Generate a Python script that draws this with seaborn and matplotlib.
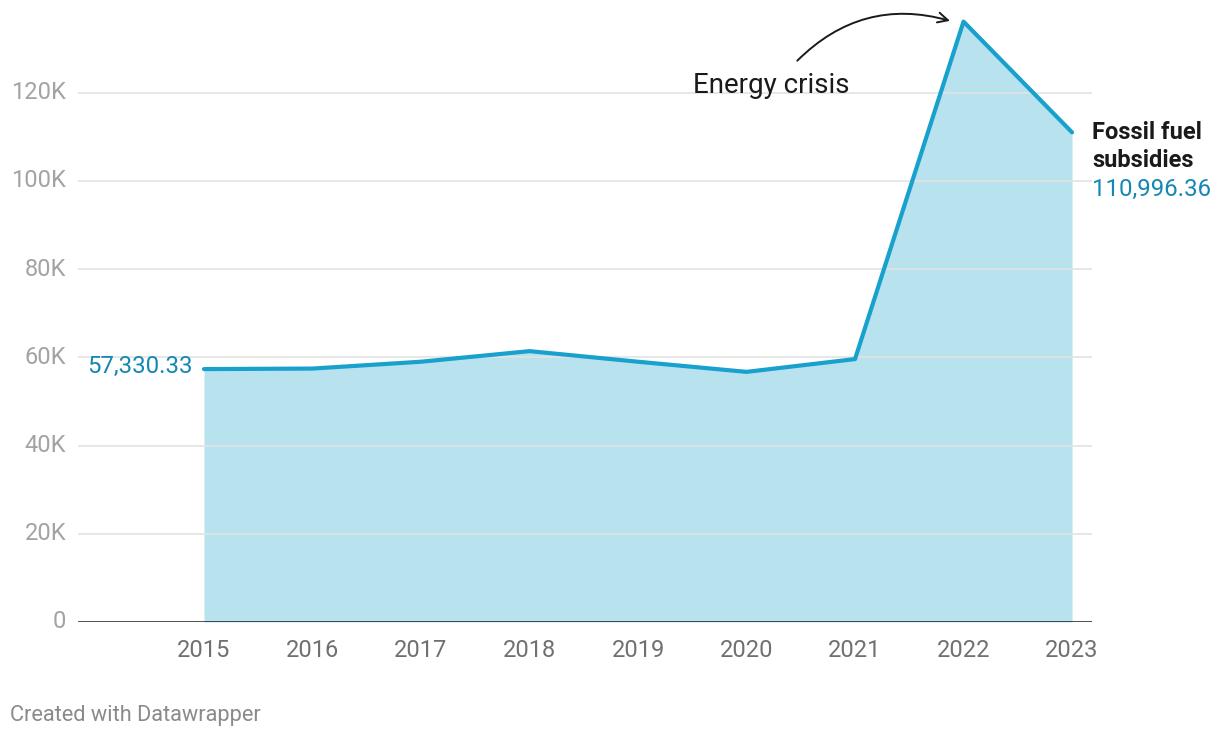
import matplotlib.pyplot as plt
import seaborn as sns
import pandas as pd

# 데이터
years = [2015, 2016, 2017, 2018, 2019, 2020, 2021, 2022, 2023]
subsidies = [57330.33, 57450, 59000, 61400, 59000, 56700, 59600, 136100, 110996.36]
ytick_vals = [0, 20000, 40000, 60000, 80000, 100000, 120000]
ytick_labels = ['0', '20K', '40K', '60K', '80K', '100K', '120K']

df = pd.DataFrame({'year': years, 'value': subsidies})

sns.set_style('white')
plt.rcParams['font.family'] = ['Roboto', 'DejaVu Sans']

line_color = '#18a1cd'
label_color = '#1488b3'

fig = plt.figure(figsize=(12.2, 7.38), dpi=100)
ax = fig.add_axes([78 / 1220, 1 - 622 / 738, (1092 - 78) / 1220, 622 / 738])

ax.fill_between(df['year'], df['value'], color=line_color, alpha=0.3, linewidth=0, zorder=1)
sns.lineplot(x='year', y='value', data=df, ax=ax, color=line_color, linewidth=3, zorder=3)

ax.set_xlim(2013.839, 2023.184)
ax.set_ylim(0, 141000)
ax.set_yticks(ytick_vals[1:])
ax.set_yticklabels([])
ax.yaxis.grid(True, color='#e3e3e3', linewidth=1.2, zorder=2)
ax.set_axisbelow(False)
for s in ['top', 'right', 'left', 'bottom']:
    ax.spines[s].set_visible(False)
ax.axhline(0, color='#1a1a1a', linewidth=1.8, zorder=4)
ax.set_xlabel('')
ax.set_ylabel('')

# y축 라벨
for v, lab in zip(ytick_vals, ytick_labels):
    ax.annotate(lab, xy=(0, v), xycoords=('axes fraction', 'data'), xytext=(-8.5, 0),
                textcoords='offset points', ha='right', va='center',
                fontsize=17, color='#a3a3a3')

ax.set_xticks(years)
ax.set_xticklabels([str(y) for y in years], fontsize=17, color='#707070')
ax.tick_params(axis='x', length=0, pad=12)
ax.tick_params(axis='y', length=0)

# 값 라벨
ax.annotate(f'{subsidies[0]:,.2f}', xy=(years[0], subsidies[0]), xytext=(-8, 2),
            textcoords='offset points', ha='right', va='center',
            fontsize=17.3, color=label_color)
ax.annotate('Fossil fuel', xy=(years[-1], subsidies[-1]), xytext=(14.4, 0),
            textcoords='offset points', ha='left', va='center',
            fontsize=17, fontweight='bold', color='#1a1a1a')
ax.annotate('subsidies', xy=(years[-1], subsidies[-1]), xytext=(14.4, -20.5),
            textcoords='offset points', ha='left', va='center',
            fontsize=17, fontweight='bold', color='#1a1a1a')
ax.annotate(f'{subsidies[-1]:,.2f}', xy=(years[-1], subsidies[-1]), xytext=(14.4, -41),
            textcoords='offset points', ha='left', va='center',
            fontsize=17.3, color=label_color)

# 에너지 위기 주석
peak_year = years[7]
peak_val = subsidies[7]
ax.annotate('', xy=(peak_year - 0.1, peak_val + 0), xytext=(peak_year - 1.55, peak_val - 9300),
            arrowprops=dict(arrowstyle='->', color='#1a1a1a', lw=1.4,
                            connectionstyle='arc3,rad=-0.3', mutation_scale=18))
ax.text(peak_year - 2.49, peak_val - 14400, 'Energy crisis', fontsize=20,
        color='#1a1a1a', ha='left', va='center')

fig.text(10 / 1220, 1 - 715 / 738, 'Created with Datawrapper', fontsize=15.7,
         color='#8a8a8a', ha='left', va='center')

plt.savefig('out.png', dpi=100)
